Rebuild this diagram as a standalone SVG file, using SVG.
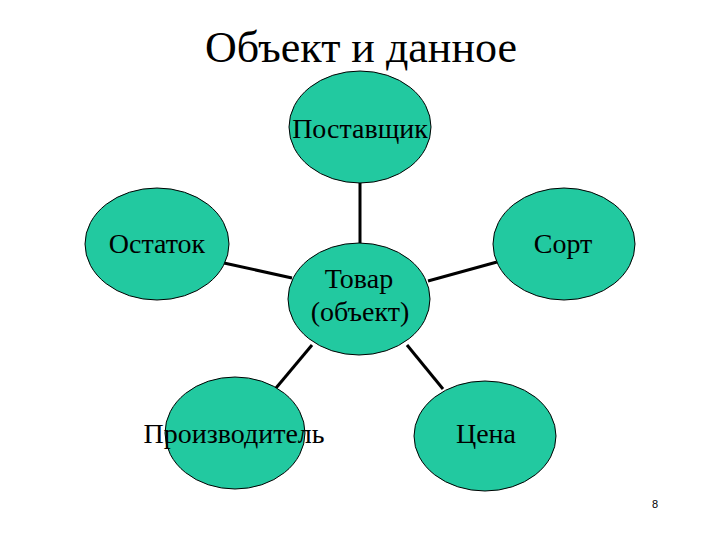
<svg xmlns="http://www.w3.org/2000/svg" width="720" height="540" viewBox="0 0 720 540">
<style>
.n{fill:#22C9A0;stroke:#000;stroke-width:1}
.t{font-family:"Liberation Serif","Times New Roman",serif;font-size:28px;fill:#000;text-anchor:middle}
.c{stroke:#000;stroke-width:3;fill:none}
</style>
<rect width="720" height="540" fill="#fff"/>
<text x="361" y="62" font-family="Liberation Serif, Times New Roman, serif" font-size="44" text-anchor="middle">Объект и данное</text>
<g id="connectors">
<line class="c" x1="360" y1="183" x2="360" y2="243"/>
<line class="c" x1="224" y1="263" x2="292" y2="278"/>
<line class="c" x1="497" y1="262" x2="428" y2="281"/>
<line class="c" x1="276" y1="388" x2="312" y2="345"/>
<line class="c" x1="443" y1="389" x2="407" y2="345"/>
</g>
<g id="supplier"><ellipse class="n" cx="360" cy="127" rx="71" ry="56"/><text class="t" x="360" y="138">Поставщик</text></g>
<g id="remainder"><ellipse class="n" cx="157" cy="244" rx="72" ry="56"/><text class="t" x="157" y="253">Остаток</text></g>
<g id="sort"><ellipse class="n" cx="564" cy="244" rx="71" ry="56"/><text class="t" x="563" y="253">Сорт</text></g>
<g id="product"><ellipse class="n" cx="359" cy="299" rx="71" ry="56"/><text class="t" x="359" y="288">Товар</text><text class="t" x="360" y="321">(объект)</text></g>
<g id="manufacturer"><ellipse class="n" cx="235" cy="433" rx="70" ry="56"/><text class="t" x="234" y="443">Производитель</text></g>
<g id="price"><ellipse class="n" cx="485" cy="436" rx="71" ry="55"/><text class="t" x="486" y="443">Цена</text></g>
<text x="655" y="508" font-family="Liberation Sans, Arial, sans-serif" font-size="11" text-anchor="middle">8</text>
</svg>
